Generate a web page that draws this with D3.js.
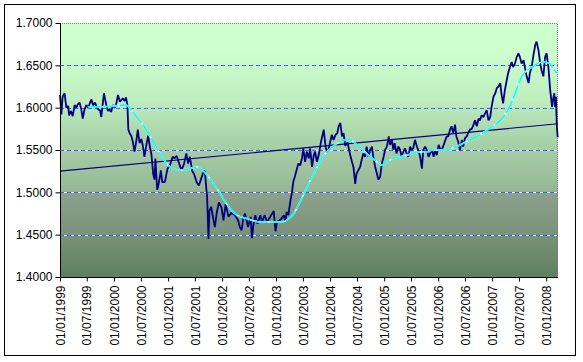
<!DOCTYPE html>
<html>
<head>
<meta charset="utf-8">
<script src="https://cdn.jsdelivr.net/npm/d3@7"></script>
<style>
  body { margin: 0; background: #fff; }
  svg { display: block; font-family: Arial, "Liberation Sans", sans-serif; }
</style>
</head>
<body>
<svg></svg>
<script>
// daily rate
let rate = [
  ["1999-01-01",1.615],["1999-01-10",1.592],["1999-01-19",1.613],["1999-02-01",1.617],["1999-02-13",1.600],
  ["1999-02-25",1.602],["1999-03-04",1.591],["1999-03-16",1.596],["1999-03-28",1.590],["1999-04-10",1.603],
  ["1999-04-22",1.600],["1999-05-01",1.604],["1999-05-13",1.606],["1999-05-25",1.598],["1999-06-04",1.587],
  ["1999-06-16",1.598],["1999-06-28",1.603],["1999-07-10",1.600],["1999-07-19",1.604],["1999-08-01",1.610],
  ["1999-08-13",1.603],["1999-08-25",1.606],["1999-09-04",1.602],["1999-09-16",1.598],["1999-09-28",1.597],
  ["1999-10-07",1.589],["1999-10-16",1.603],["1999-10-25",1.617],["1999-11-10",1.603],["1999-11-22",1.596],
  ["1999-12-01",1.598],["1999-12-13",1.595],["1999-12-25",1.603],["2000-01-07",1.600],["2000-01-16",1.604],
  ["2000-01-28",1.615],["2000-02-10",1.607],["2000-02-19",1.609],["2000-03-01",1.611],["2000-03-13",1.608],
  ["2000-03-22",1.612],["2000-04-01",1.603],["2000-04-07",1.574],["2000-04-16",1.570],["2000-04-28",1.566],
  ["2000-05-07",1.560],["2000-05-19",1.548],["2000-06-01",1.562],["2000-06-10",1.574],["2000-06-22",1.558],
  ["2000-07-04",1.563],["2000-07-13",1.556],["2000-07-25",1.542],["2000-08-07",1.556],["2000-08-19",1.567],
  ["2000-09-01",1.552],["2000-09-10",1.545],["2000-09-22",1.522],["2000-10-01",1.515],["2000-10-07",1.540],
  ["2000-10-19",1.503],["2000-10-26",1.507],["2000-11-13",1.526],["2000-11-22",1.512],["2000-12-10",1.512],
  ["2000-12-28",1.528],["2001-01-13",1.532],["2001-02-01",1.542],["2001-02-13",1.540],["2001-02-28",1.543],
  ["2001-03-13",1.536],["2001-04-01",1.526],["2001-04-19",1.534],["2001-05-04",1.546],["2001-05-16",1.534],
  ["2001-05-28",1.542],["2001-06-13",1.525],["2001-06-25",1.522],["2001-07-13",1.512],["2001-07-28",1.508],
  ["2001-08-16",1.518],["2001-09-01",1.526],["2001-09-07",1.524],["2001-09-13",1.511],["2001-09-22",1.493],
  ["2001-10-01",1.445],["2001-10-07",1.478],["2001-10-19",1.483],["2001-11-04",1.467],["2001-11-13",1.459],
  ["2001-11-25",1.475],["2001-12-10",1.488],["2001-12-28",1.482],["2002-01-10",1.467],["2002-01-25",1.486],
  ["2002-02-13",1.471],["2002-03-04",1.476],["2002-03-28",1.473],["2002-04-19",1.467],["2002-05-01",1.459],
  ["2002-05-13",1.455],["2002-05-22",1.467],["2002-06-04",1.475],["2002-06-16",1.467],["2002-06-25",1.459],
  ["2002-07-13",1.471],["2002-07-22",1.446],["2002-08-01",1.462],["2002-08-13",1.473],["2002-08-28",1.463],
  ["2002-09-16",1.473],["2002-09-28",1.465],["2002-10-16",1.473],["2002-11-01",1.465],["2002-11-22",1.471],
  ["2002-12-16",1.478],["2002-12-28",1.454],["2003-01-07",1.465],["2003-02-01",1.468],["2003-02-22",1.473],
  ["2003-03-04",1.465],["2003-03-13",1.477],["2003-03-25",1.473],["2003-04-07",1.489],["2003-04-19",1.501],
  ["2003-04-28",1.513],["2003-05-10",1.520],["2003-05-22",1.528],["2003-06-01",1.534],["2003-06-13",1.532],
  ["2003-06-25",1.540],["2003-07-04",1.552],["2003-07-16",1.536],["2003-07-28",1.548],["2003-08-10",1.540],
  ["2003-08-19",1.552],["2003-09-01",1.530],["2003-09-13",1.544],["2003-09-22",1.548],["2003-10-04",1.536],
  ["2003-10-16",1.544],["2003-11-01",1.560],["2003-11-19",1.574],["2003-12-01",1.555],["2003-12-10",1.547],
  ["2003-12-22",1.551],["2004-01-13",1.568],["2004-01-25",1.562],["2004-02-07",1.568],["2004-02-19",1.570],
  ["2004-02-28",1.578],["2004-03-10",1.582],["2004-03-22",1.566],["2004-04-01",1.570],["2004-04-13",1.555],
  ["2004-04-28",1.559],["2004-05-16",1.544],["2004-05-28",1.536],["2004-06-07",1.530],["2004-06-19",1.510],
  ["2004-06-28",1.522],["2004-07-10",1.526],["2004-07-22",1.530],["2004-08-01",1.538],["2004-08-13",1.546],
  ["2004-08-25",1.542],["2004-09-04",1.554],["2004-09-16",1.542],["2004-09-28",1.550],["2004-10-10",1.554],
  ["2004-10-19",1.542],["2004-11-01",1.530],["2004-11-13",1.522],["2004-11-22",1.515],["2004-12-04",1.518],
  ["2004-12-16",1.534],["2004-12-28",1.542],["2005-01-07",1.550],["2005-01-19",1.554],["2005-02-01",1.566],
  ["2005-02-10",1.556],["2005-02-22",1.562],["2005-03-04",1.550],["2005-03-13",1.558],["2005-03-25",1.546],
  ["2005-04-07",1.554],["2005-04-19",1.550],["2005-04-28",1.542],["2005-05-10",1.548],["2005-05-22",1.552],
  ["2005-06-01",1.546],["2005-06-13",1.542],["2005-06-25",1.554],["2005-07-04",1.550],["2005-07-16",1.552],
  ["2005-07-28",1.562],["2005-08-10",1.554],["2005-08-19",1.550],["2005-09-01",1.542],["2005-09-13",1.528],
  ["2005-09-22",1.550],["2005-10-04",1.554],["2005-10-16",1.550],["2005-10-28",1.542],["2005-11-07",1.546],
  ["2005-11-19",1.550],["2005-12-01",1.542],["2005-12-10",1.550],["2005-12-22",1.544],["2006-01-04",1.556],
  ["2006-01-13",1.552],["2006-01-25",1.550],["2006-02-07",1.556],["2006-02-19",1.562],["2006-02-28",1.566],
  ["2006-03-10",1.566],["2006-03-22",1.574],["2006-04-01",1.578],["2006-04-13",1.570],["2006-04-25",1.580],
  ["2006-05-04",1.566],["2006-05-16",1.560],["2006-05-28",1.550],["2006-06-10",1.562],["2006-06-19",1.554],
  ["2006-07-01",1.564],["2006-07-13",1.566],["2006-07-22",1.570],["2006-08-04",1.574],["2006-08-16",1.575],
  ["2006-08-28",1.580],["2006-09-07",1.585],["2006-09-19",1.578],["2006-10-01",1.587],["2006-10-10",1.585],
  ["2006-10-22",1.591],["2006-11-04",1.589],["2006-11-13",1.593],["2006-11-25",1.597],["2006-12-07",1.585],
  ["2006-12-19",1.589],["2006-12-28",1.601],["2007-01-10",1.613],["2007-01-22",1.617],["2007-02-01",1.623],
  ["2007-02-13",1.625],["2007-02-25",1.629],["2007-03-04",1.617],["2007-03-16",1.605],["2007-03-28",1.621],
  ["2007-04-10",1.633],["2007-04-19",1.641],["2007-05-01",1.648],["2007-05-13",1.654],["2007-05-22",1.648],
  ["2007-06-04",1.652],["2007-06-16",1.660],["2007-06-28",1.664],["2007-07-07",1.660],["2007-07-19",1.652],
  ["2007-08-01",1.656],["2007-08-10",1.648],["2007-08-22",1.637],["2007-09-04",1.629],["2007-09-13",1.641],
  ["2007-09-25",1.648],["2007-10-07",1.662],["2007-10-19",1.674],["2007-10-28",1.678],["2007-11-10",1.668],
  ["2007-11-22",1.652],["2007-12-01",1.644],["2007-12-13",1.637],["2007-12-25",1.660],["2008-01-04",1.664],
  ["2008-01-16",1.648],["2008-01-28",1.621],["2008-02-10",1.601],["2008-02-16",1.609],["2008-02-25",1.617],
  ["2008-03-01",1.601],["2008-03-07",1.613],["2008-03-13",1.578],["2008-03-19",1.565]
]

// moving average trend (cyan)
let movingAvg = [
  ["1999-07-08",1.601],["1999-09-28",1.601],["2000-01-01",1.602],["2000-03-14",1.603],["2000-04-04",1.602],
  ["2000-05-08",1.595],["2000-06-11",1.587],["2000-07-14",1.580],["2000-08-04",1.574],["2000-09-08",1.564],
  ["2000-10-04",1.557],["2000-10-24",1.550],["2000-11-21",1.542],["2001-01-01",1.532],["2001-02-04",1.528],
  ["2001-03-21",1.526],["2001-05-28",1.528],["2001-07-14",1.530],["2001-08-24",1.526],["2001-09-28",1.519],
  ["2001-11-01",1.511],["2001-12-18",1.499],["2002-01-21",1.489],["2002-02-24",1.481],["2002-04-11",1.473],
  ["2002-06-18",1.469],["2002-09-14",1.465],["2002-12-04",1.465],["2003-02-11",1.465],["2003-03-28",1.469],
  ["2003-05-01",1.475],["2003-06-04",1.486],["2003-07-08",1.498],["2003-08-11",1.511],["2003-09-14",1.522],
  ["2003-10-18",1.534],["2003-11-21",1.544],["2003-12-24",1.550],["2004-02-04",1.556],["2004-03-21",1.561],
  ["2004-05-08",1.562],["2004-07-01",1.556],["2004-08-11",1.550],["2004-09-28",1.542],["2004-11-14",1.536],
  ["2004-12-18",1.532],["2005-01-21",1.536],["2005-03-01",1.540],["2005-04-18",1.542],["2005-06-04",1.544],
  ["2005-07-14",1.546],["2005-09-01",1.548],["2005-10-18",1.548],["2005-11-28",1.550],["2006-02-24",1.550],
  ["2006-05-28",1.556],["2006-08-04",1.562],["2006-10-11",1.568],["2006-12-18",1.576],["2007-02-24",1.585],
  ["2007-04-11",1.595],["2007-05-14",1.607],["2007-06-18",1.623],["2007-07-21",1.637],["2007-08-24",1.644],
  ["2007-09-28",1.648],["2007-11-01",1.652],["2007-12-11",1.654],["2008-01-28",1.652],["2008-02-18",1.646],
  ["2008-03-14",1.641]
]

// linear trend end points
let trendDates = ["1999-01-01", "2008-03-20"]
let trendValues = [1.525, 1.581]

let yTicks = [1.40, 1.45, 1.50, 1.55, 1.60, 1.65, 1.70]
let blueOnlyGrid = [1.60, 1.65]
let blueWhiteGrid = [1.45, 1.50, 1.55]
let xTickLabels = ["01/01/1999","01/07/1999","01/01/2000","01/07/2000","01/01/2001","01/07/2001",
  "01/01/2002","01/07/2002","01/01/2003","01/07/2003","01/01/2004","01/07/2004","01/01/2005",
  "01/07/2005","01/01/2006","01/07/2006","01/01/2007","01/07/2007","01/01/2008"]
let xDomain = ["1999-01-01", "2008-03-21"]

let width = 583
let height = 362
let plotLeft = 60, plotRight = 558, plotTop = 23, plotBottom = 277

let parseDate = d3.timeParse('%Y-%m-%d')
let parseLabel = d3.timeParse('%d/%m/%Y')

let svg = d3.select('svg')
  .attr('width', width)
  .attr('height', height)

let xScale = d3.scaleTime()
  .domain(xDomain.map(parseDate))
  .range([plotLeft, plotRight])

let yScale = d3.scaleLinear()
  .domain([1.4, 1.7])
  .range([plotBottom, plotTop])

// outer frame
svg.append('rect')
  .attr('x', 4.5).attr('y', 4.5)
  .attr('width', 571).attr('height', 351)
  .attr('fill', '#fff')
  .attr('stroke', '#000')

// plot area gradient
let grad = svg.append('defs').append('linearGradient')
  .attr('id', 'bg')
  .attr('x1', 0).attr('y1', 0).attr('x2', 0).attr('y2', 1)
let stops = [[0, '#ccffcc'], [0.12, '#ccffcc'], [0.3, '#bfeebf'], [0.45, '#aad4aa'],
  [0.6, '#9cc09c'], [0.66, '#96b696'], [0.67, '#8ca18c'], [0.82, '#7b947b'], [1, '#5f7f5f']]
grad.selectAll('stop').data(stops).enter().append('stop')
  .attr('offset', d => d[0])
  .attr('stop-color', d => d[1])

svg.append('rect')
  .attr('x', plotLeft).attr('y', plotTop)
  .attr('width', plotRight - plotLeft).attr('height', plotBottom - plotTop)
  .attr('fill', 'url(#bg)')

// gridlines
svg.selectAll('.gw')
  .data(blueWhiteGrid).enter().append('line')
  .attr('class', 'gw')
  .attr('x1', plotLeft).attr('x2', plotRight)
  .attr('y1', d => Math.round(yScale(d)) + 0.5).attr('y2', d => Math.round(yScale(d)) + 0.5)
  .attr('stroke', '#ffffff')
svg.selectAll('.gb')
  .data(blueOnlyGrid.concat(blueWhiteGrid)).enter().append('line')
  .attr('class', 'gb')
  .attr('x1', plotLeft).attr('x2', plotRight)
  .attr('y1', d => Math.round(yScale(d)) + 0.5).attr('y2', d => Math.round(yScale(d)) + 0.5)
  .attr('stroke', '#3366ff')
  .attr('stroke-dasharray', '4,3')

// plot border top and right (dotted grey)
svg.append('path')
  .attr('d', `M${plotLeft},${plotTop + 0.5}H${plotRight - 0.5}V${plotBottom}`)
  .attr('fill', 'none')
  .attr('stroke', '#808080')
  .attr('stroke-dasharray', '1,1')

// linear trend
let trend = trendDates.map((d, i) => [parseDate(d), trendValues[i]])
svg.append('path')
  .datum(trend)
  .attr('d', d3.line().x(d => xScale(d[0])).y(d => yScale(d[1])))
  .attr('fill', 'none')
  .attr('stroke', '#000080')
  .attr('stroke-width', 1.2)

// rate series
let line = d3.line()
  .x(d => xScale(parseDate(d[0])))
  .y(d => yScale(d[1]))

svg.append('path')
  .datum(rate)
  .attr('d', line)
  .attr('fill', 'none')
  .attr('stroke', '#000080')
  .attr('stroke-width', 1.8)
  .attr('stroke-linejoin', 'bevel')

// moving average: white under cyan dashes
let maLine = d3.line()
  .x(d => xScale(parseDate(d[0])))
  .y(d => yScale(d[1]))
  .curve(d3.curveMonotoneX)

svg.append('path')
  .datum(movingAvg)
  .attr('d', maLine)
  .attr('fill', 'none')
  .attr('stroke', '#ffffff')
  .attr('stroke-width', 1.6)
svg.append('path')
  .datum(movingAvg)
  .attr('d', maLine)
  .attr('fill', 'none')
  .attr('stroke', '#00ffff')
  .attr('stroke-width', 1.6)
  .attr('stroke-dasharray', '14,2')

// axes
let yAxis = d3.axisLeft(yScale)
  .tickValues(yTicks)
  .tickSize(5)
  .tickFormat(d3.format('.4f'))

svg.append('g')
  .attr('id', 'y-axis')
  .attr('transform', 'translate(' + (plotLeft + 0.5) + ',0)')
  .call(yAxis)
  .call(g => g.select('.domain').attr('d', `M0,${plotTop}V${plotBottom}`))

let xAxis = d3.axisBottom(xScale)
  .tickValues(xTickLabels.map(parseLabel))
  .tickSize(4)
  .tickFormat(d3.timeFormat('%d/%m/%Y'))

svg.append('g')
  .attr('id', 'x-axis')
  .attr('transform', 'translate(0,' + (plotBottom + 0.5) + ')')
  .call(xAxis)
  .call(g => g.select('.domain').attr('d', `M${plotLeft},0H${plotRight}`))
  .selectAll('text')
  .attr('transform', 'rotate(-90)')
  .attr('x', -8)
  .attr('y', 0)
  .attr('dy', '0.35em')
  .style('text-anchor', 'end')

svg.selectAll('.tick text')
  .attr('fill', '#000')
  .style('font-size', '12px')
  .style('font-family', 'Arial, "Liberation Sans", sans-serif')
svg.selectAll('#y-axis .tick text').attr('x', -8)
svg.selectAll('.domain, .tick line').attr('stroke', '#000')
</script>
</body>
</html>
